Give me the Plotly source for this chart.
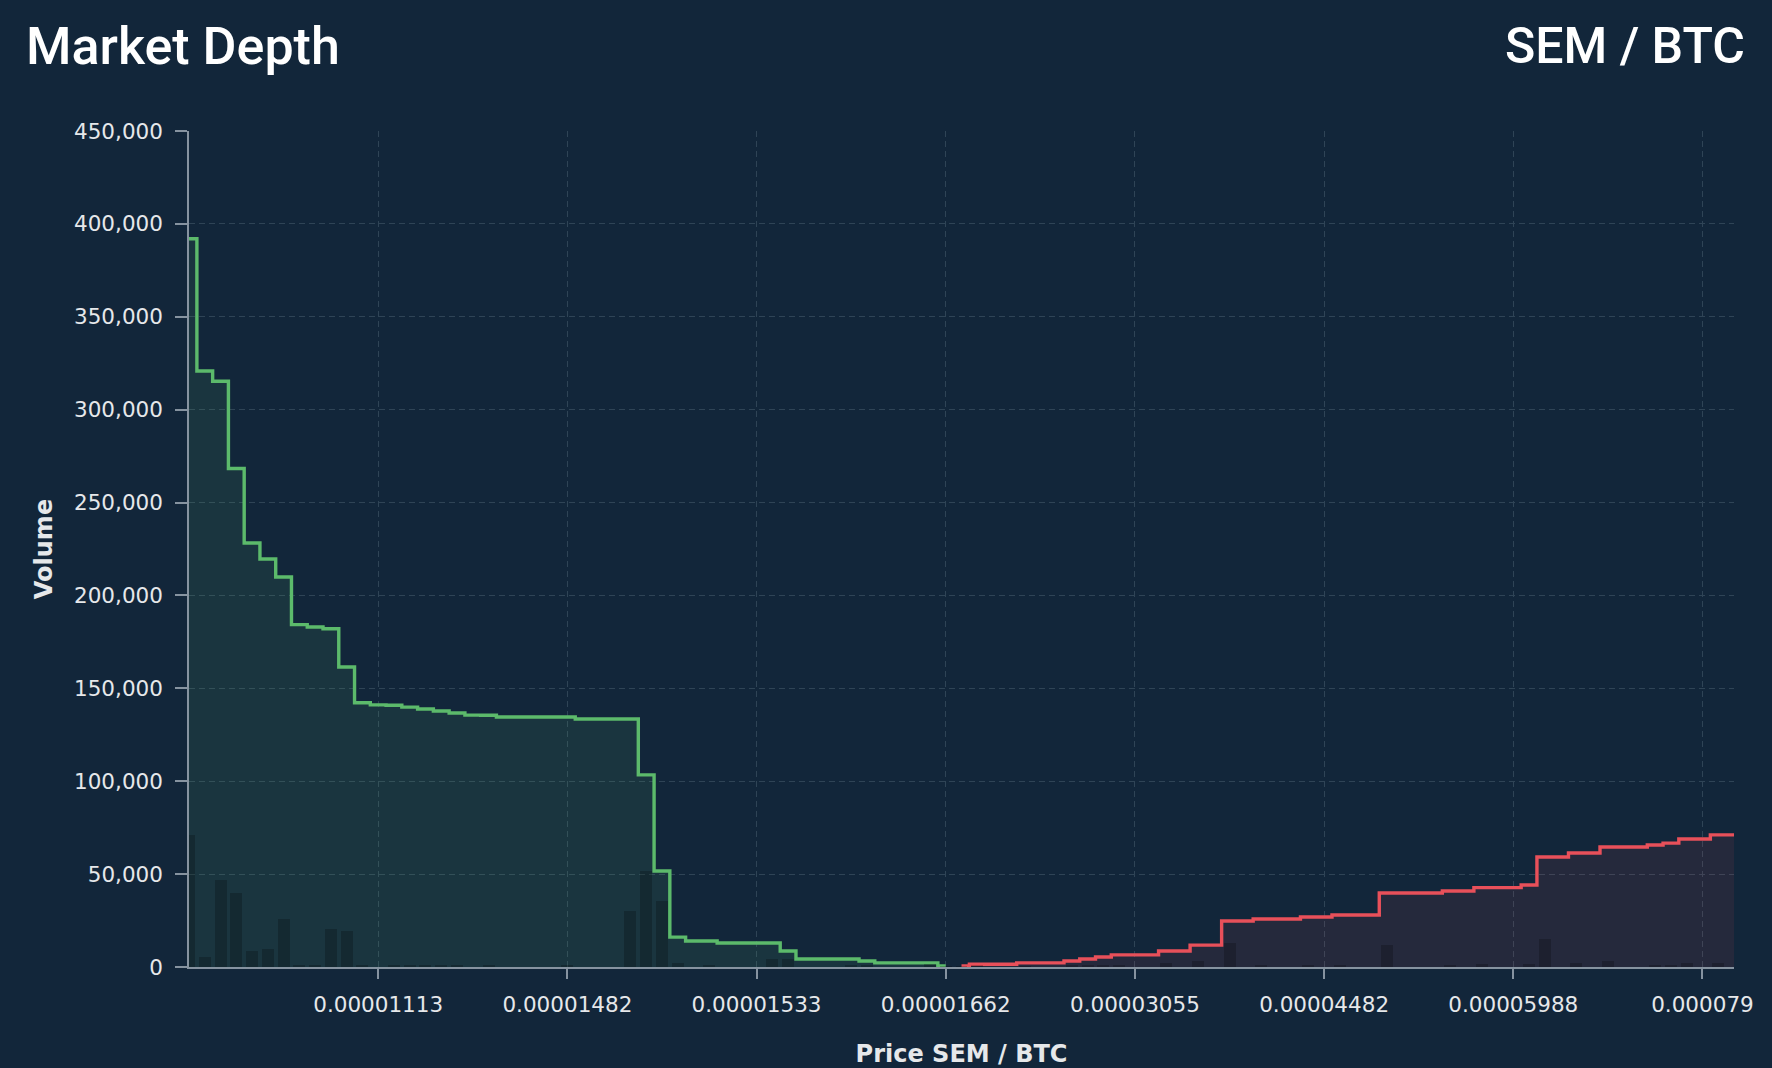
import plotly.graph_objects as go
import numpy as np

# ---- data ----
# cumulative bid depth (low price -> best bid), one value per price level
bid_depth = [392000, 320800, 315300, 268300, 228200, 219600, 209900, 184300, 183000, 182100,
             161500, 142200, 141100, 140900, 139900, 138900, 137800, 136700, 135600, 135500,
             134600, 134600, 134600, 134600, 134600, 133500, 133500, 133500, 133500, 103400,
             51700, 16100, 14000, 14000, 12900, 12900, 12900, 12900, 8600, 4300,
             4300, 4300, 4300, 3200, 2200, 2200, 2200, 2200, 500]
# cumulative ask depth (best ask -> high price)
ask_depth = [600, 1450, 1450, 1450, 2200, 2200, 2200, 3200, 4300, 5400,
             6500, 6500, 6500, 8600, 8600, 11800, 11800, 24800, 24800, 25800,
             25800, 25800, 26900, 26900, 28000, 28000, 28000, 39800, 39800, 39800,
             39800, 40900, 40900, 42700, 42700, 42700, 44100, 59200, 59200, 61400,
             61400, 64600, 64600, 64600, 65700, 66700, 68900, 68900, 71100, 71100]
# price tick labels shown on the x axis (level index -> price)
tick_levels = [12, 24, 36, 48, 60, 72, 84, 96]
tick_prices = ["0.00001113", "0.00001482", "0.00001533", "0.00001662",
               "0.00003055", "0.00004482", "0.00005988", "0.000079"]

title_left = "Market Depth"
title_right = "SEM / BTC"
x_title = "Price SEM / BTC"
y_title = "Volume"

# ---- derived ----
nb, na = len(bid_depth), len(ask_depth)
bid_x = list(range(nb))
ask_x = list(range(nb, nb + na))
bid_arr = np.array(bid_depth, dtype=float)
ask_arr = np.array(ask_depth, dtype=float)
bid_vol = np.append(bid_arr[:-1] - bid_arr[1:], bid_arr[-1])
ask_vol = np.insert(ask_arr[1:] - ask_arr[:-1], 0, ask_arr[0])

BG = "#12263a"
GREEN = "#5cba6b"
RED = "#e8505a"
GRID = "#2f4456"
AXIS = "#8693a0"
TXT = "#e6e8ea"

fig = go.Figure()
fig.add_trace(go.Scatter(x=bid_x, y=bid_depth, mode="lines", line=dict(color=GREEN, width=3.4, shape="hvh"),
                         fill="tozeroy", fillcolor="rgba(92,186,107,0.11)", name="Bids", hoverinfo="x+y"))
fig.add_trace(go.Scatter(x=ask_x, y=ask_depth, mode="lines", line=dict(color=RED, width=3.4, shape="hvh"),
                         fill="tozeroy", fillcolor="rgba(232,80,90,0.09)", name="Asks", hoverinfo="x+y"))
fig.add_trace(go.Bar(x=bid_x + ask_x, y=list(bid_vol) + list(ask_vol), width=0.76,
                     marker=dict(color="rgba(0,0,0,0.21)", line=dict(width=0)), yaxis="y2", name="Volume"))

fig.update_layout(
    width=1772, height=1068,
    paper_bgcolor=BG, plot_bgcolor=BG,
    margin=dict(l=189, r=38, t=131, b=101),
    showlegend=False,
    font=dict(family="DejaVu Sans", color=TXT, size=22),
    bargap=0,
    xaxis=dict(range=[0, nb + na - 1], tickmode="array", tickvals=tick_levels, ticktext=tick_prices,
               showgrid=True, gridcolor=GRID, griddash="6px,4px", gridwidth=1,
               showline=True, linecolor=AXIS, linewidth=1.5,
               ticks="outside", ticklen=10, tickcolor=AXIS, tickwidth=1.5,
               ticklabelstandoff=7,
               tickfont=dict(size=21.5, color=TXT, family="DejaVu Sans"),
               zeroline=False, automargin=False,
               title=dict(text=x_title, standoff=33,
                          font=dict(size=24, color=TXT, family="DejaVu Sans", weight="bold"))),
    yaxis=dict(range=[0, 450000], tickmode="linear", tick0=0, dtick=50000, tickformat=",",
               showgrid=True, gridcolor=GRID, griddash="6px,4px", gridwidth=1,
               showline=True, linecolor=AXIS, linewidth=1.5,
               ticks="outside", ticklen=12, tickcolor=AXIS, tickwidth=1.5,
               ticklabelstandoff=8,
               tickfont=dict(size=21.5, color=TXT, family="DejaVu Sans"),
               zeroline=False, automargin=False,
               title=dict(text=y_title, standoff=15,
                          font=dict(size=24, color=TXT, family="DejaVu Sans", weight="bold"))),
    yaxis2=dict(range=[0, 450000], overlaying="y", visible=False, showgrid=False),
    annotations=[
        dict(text=title_left, xref="paper", yref="paper", x=0, y=1, xshift=-165, yshift=85,
             xanchor="left", yanchor="middle", showarrow=False,
             font=dict(family="Roboto", size=52, color="#ffffff", weight=500)),
        dict(text=title_right, xref="paper", yref="paper", x=1, y=1, xshift=13, yshift=85,
             xanchor="right", yanchor="middle", showarrow=False,
             font=dict(family="Roboto", size=50, color="#ffffff", weight=500)),
    ],
)

fig.write_html("out.html", config={"displayModeBar": False},
               post_script="document.body.style.margin='0';document.body.style.background='" + BG + "';")
